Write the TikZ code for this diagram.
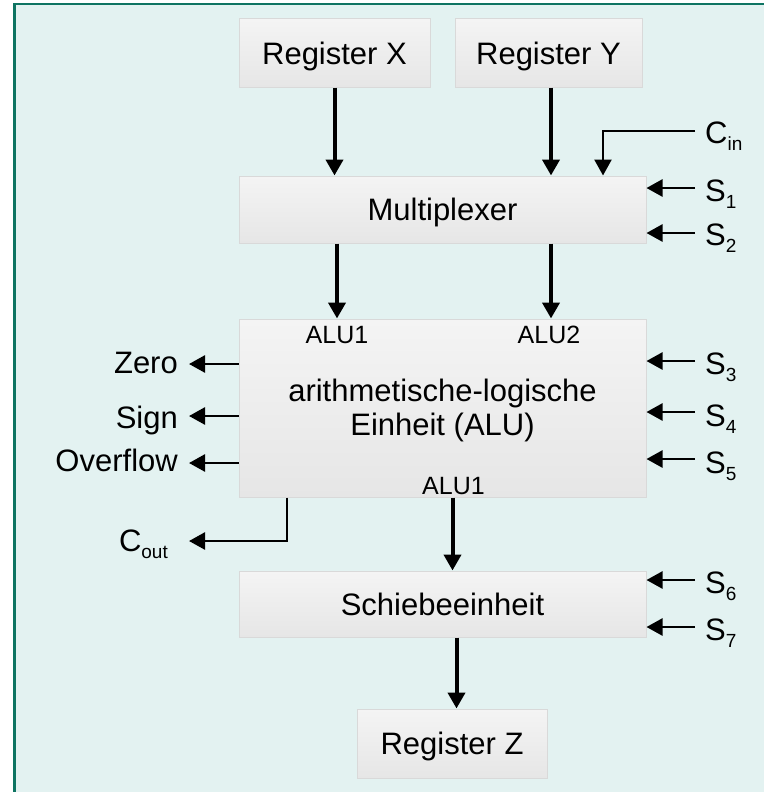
\documentclass[tikz,border=0pt]{standalone}
\usepackage{fontspec}
\setmainfont{Liberation Sans}
\usetikzlibrary{arrows.meta,calc}
\definecolor{bgc}{HTML}{E3F2F1}
\definecolor{framec}{HTML}{0E7462}
\definecolor{boxtop}{HTML}{F4F4F4}
\definecolor{boxbot}{HTML}{E6E6E6}
\definecolor{boxline}{HTML}{D9D9D9}
\newcommand\subx[1]{\raisebox{-7pt}{\fontsize{19}{19}\selectfont #1}}
\begin{document}
\begin{tikzpicture}[x=1pt,y=-1pt,font=\fontsize{31}{33}\selectfont,
  box/.style={draw=boxline, line width=1pt, top color=boxtop, bottom color=boxbot, inner sep=0pt, text height=22.5pt, text depth=0pt},
  mainarrow/.style={line width=4pt, -{Triangle[length=16pt,width=17pt]}},
  sidearrow/.style={line width=2.5pt, -{Triangle[length=16pt,width=17pt]}},
  lbl/.style={inner sep=0pt},
  smalllbl/.style={inner sep=0pt, font=\fontsize{25}{25}\selectfont}]
\useasboundingbox (0,0) rectangle (764,792);
\fill[bgc] (14.7,4) rectangle (764,792);
\draw[framec, line width=2.7pt, line join=miter] (14.7,792) -- (14.7,4) -- (764,4);

% boxes
\node[box, minimum width=191pt, minimum height=68pt] (rx) at (334.5,53) {Register X};
\node[box, minimum width=187pt, minimum height=68pt] (ry) at (548.5,53) {Register Y};
\node[box, minimum width=407pt, minimum height=67pt] (mux) at (442.5,209.5) {Multiplexer};
\node[box, minimum width=407pt, minimum height=178pt] (alu) at (442.5,408) {};
\node[box, minimum width=407pt, minimum height=66pt] (sch) at (442.5,604) {Schiebeeinheit};
\node[box, minimum width=190pt, minimum height=69pt] (rz) at (452,743.5) {Register Z};

% ALU texts
\node[smalllbl, anchor=base] (a1) at (337,343) {ALU1};
\node[smalllbl, anchor=base] (a2) at (549,343) {ALU2};
\node[lbl, anchor=base] (at1) at (442.5,401.7) {arithmetische-logische};
\node[lbl, anchor=base] (at2) at (442.5,435) {Einheit (ALU)};
\node[smalllbl, anchor=base] (a3) at (453.5,494) {ALU1};

% main vertical arrows
\draw[mainarrow] (rx.south) -- (rx.south |- mux.north);
\draw[mainarrow] ([xshift=2.5pt]ry.south) -- ([xshift=2.5pt]ry.south |- mux.north);
\draw[mainarrow] ([xshift=-105.5pt]mux.south) -- ([xshift=-105.5pt]mux.south |- alu.north);
\draw[mainarrow] ([xshift=108.5pt]mux.south) -- ([xshift=108.5pt]mux.south |- alu.north);
\draw[mainarrow] ([xshift=10pt]alu.south) -- ([xshift=10pt]alu.south |- sch.north);
\draw[mainarrow] ([xshift=14pt]sch.south) -- ([xshift=14pt]sch.south |- rz.north);

% C_in
\node[lbl, anchor=base west] (cin) at (705,143) {C\subx{in}};
\coordinate (cinc) at (695,131);
\draw[sidearrow] (cinc) -| ([xshift=160.5pt]mux.north);

% right-side control signals
\node[lbl, anchor=base west] (s1) at (705,201.7) {S\subx{1}};
\coordinate (s1c) at (695,188);
\draw[sidearrow] (s1c) -- (s1c -| mux.east);
\node[lbl, anchor=base west] (s2) at (705,245) {S\subx{2}};
\coordinate (s2c) at (695,233);
\draw[sidearrow] (s2c) -- (s2c -| mux.east);
\node[lbl, anchor=base west] (s3) at (705,374) {S\subx{3}};
\coordinate (s3c) at (695,361);
\draw[sidearrow] (s3c) -- (s3c -| alu.east);
\node[lbl, anchor=base west] (s4) at (705,426) {S\subx{4}};
\coordinate (s4c) at (695,412);
\draw[sidearrow] (s4c) -- (s4c -| alu.east);
\node[lbl, anchor=base west] (s5) at (705,473) {S\subx{5}};
\coordinate (s5c) at (695,459);
\draw[sidearrow] (s5c) -- (s5c -| alu.east);
\node[lbl, anchor=base west] (s6) at (705,593) {S\subx{6}};
\coordinate (s6c) at (695,580);
\draw[sidearrow] (s6c) -- (s6c -| sch.east);
\node[lbl, anchor=base west] (s7) at (705,640) {S\subx{7}};
\coordinate (s7c) at (695,627);
\draw[sidearrow] (s7c) -- (s7c -| sch.east);

% left-side flags
\node[lbl, anchor=base east] (zero) at (178,373) {Zero};
\coordinate (zc) at (189,364);
\draw[sidearrow] (zc -| alu.west) -- (zc);
\node[lbl, anchor=base east] (sign) at (178,428) {Sign};
\coordinate (sc) at (189,416);
\draw[sidearrow] (sc -| alu.west) -- (sc);
\node[lbl, anchor=base east] (ovf) at (178,471.5) {Overflow};
\coordinate (oc) at (189,463);
\draw[sidearrow] (oc -| alu.west) -- (oc);

% C_out
\node[lbl, anchor=base east] (cout) at (168,551.7) {C\subx{out}};
\coordinate (coc) at (189,541);
\draw[sidearrow] ([xshift=-155.5pt]alu.south) |- (coc);
\end{tikzpicture}
\end{document}
